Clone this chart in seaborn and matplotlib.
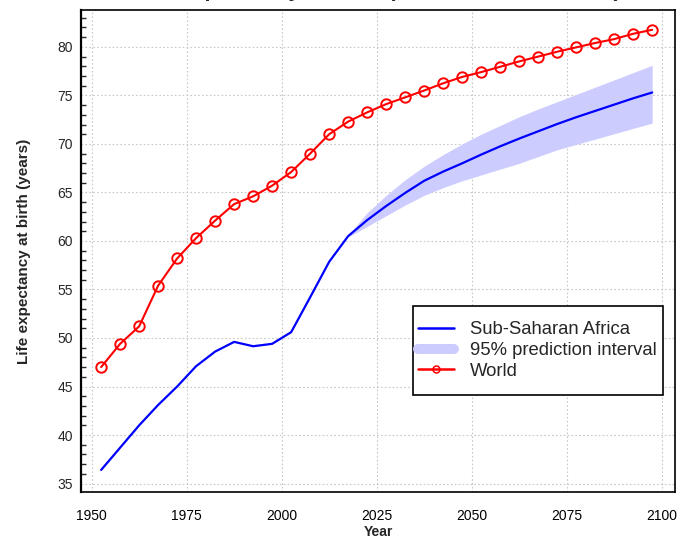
import numpy as np
import pandas as pd
import seaborn as sns
import matplotlib
matplotlib.use("Agg")
import matplotlib.pyplot as plt
from matplotlib.lines import Line2D
from matplotlib.patches import Rectangle
from matplotlib.ticker import MultipleLocator

# Period midpoints (five-year periods)
years_hist = [1952.5, 1957.5, 1962.5, 1967.5, 1972.5, 1977.5, 1982.5, 1987.5,
              1992.5, 1997.5, 2002.5, 2007.5, 2012.5, 2017.5]
years_proj = [2017.5, 2022.5, 2027.5, 2032.5, 2037.5, 2042.5, 2047.5, 2052.5,
              2057.5, 2062.5, 2067.5, 2072.5, 2077.5, 2082.5, 2087.5, 2092.5,
              2097.5]

# Sub-Saharan Africa: estimates and median projection
ssa_hist = [36.4, 38.7, 41.0, 43.1, 45.0, 47.1, 48.6, 49.6,
            49.15, 49.4, 50.6, 54.2, 57.85, 60.5]
ssa_proj = [60.5, 62.15, 63.6, 64.95, 66.2, 67.15, 68.0, 68.9,
            69.75, 70.55, 71.3, 72.05, 72.75, 73.4, 74.05, 74.7, 75.3]
ssa_lo = [60.4, 61.5, 62.6, 63.7, 64.7, 65.5, 66.2, 66.8,
          67.4, 68.0, 68.7, 69.4, 69.95, 70.5, 71.05, 71.6, 72.15]
ssa_hi = [60.6, 62.9, 64.7, 66.3, 67.7, 68.9, 70.0, 71.0,
          71.9, 72.8, 73.6, 74.35, 75.1, 75.85, 76.6, 77.35, 78.1]

# World: estimates and projection
years_world = years_hist[:-1] + years_proj
world = [47.0, 49.4, 51.2, 55.4, 58.2, 60.3, 62.1, 63.8, 64.6, 65.7,
         67.1, 69.0, 71.0, 72.3, 73.25, 74.1, 74.8, 75.5, 76.25, 76.9,
         77.4, 77.95, 78.5, 79.0, 79.5, 79.95, 80.4, 80.8, 81.35, 81.76]

title = "Life expectancy at birth (historic and forecast)"
x_label = "Year"
y_label = "Life expectancy at birth (years)"
x_ticks = [1950, 1975, 2000, 2025, 2050, 2075, 2100]
y_ticks = [35, 40, 45, 50, 55, 60, 65, 70, 75, 80]
series_names = ["Sub-Saharan Africa", "95% prediction interval", "World"]

sns.set_style("white")
plt.rcParams["font.family"] = ["Liberation Sans", "DejaVu Sans"]

ssa_df = pd.DataFrame({"year": years_hist + years_proj[1:],
                       "e0": ssa_hist + ssa_proj[1:]})
band_df = pd.DataFrame({"year": years_proj, "lo": ssa_lo, "hi": ssa_hi})
world_df = pd.DataFrame({"year": years_world, "e0": world})

fig = plt.figure(figsize=(6.96, 5.39), dpi=100)
ax = fig.add_axes([81 / 696, 47 / 539, 594 / 696, 482 / 539])

band_color = "#ccccff"
ax.fill_between(band_df["year"], band_df["lo"], band_df["hi"],
                color=band_color, lw=0, zorder=1)
sns.lineplot(data=ssa_df, x="year", y="e0", ax=ax, color="blue",
             lw=1.6, zorder=3, legend=False)
sns.lineplot(data=world_df, x="year", y="e0", ax=ax, color="red",
             lw=1.5, marker="o", markersize=7.5, markerfacecolor="none",
             markeredgecolor="red", markeredgewidth=1.4, zorder=4,
             legend=False)

ax.set_xlim(1947.2, 2103.5)
ax.set_ylim(34.13, 83.8)
ax.set_xticks(x_ticks)
ax.set_yticks(y_ticks)
ax.yaxis.set_minor_locator(MultipleLocator(1))
ax.tick_params(axis="x", direction="out", length=6, width=1.0,
               labelsize=10, pad=6, colors="black")
ax.tick_params(axis="y", which="major", direction="in", length=4,
               width=1.0, labelsize=10, pad=6)
ax.tick_params(axis="y", which="minor", direction="in", length=3.5,
               width=1.0, left=True)
ax.grid(True, which="major", color="#c8c8c8", linestyle=(0, (1.5, 2)),
        lw=0.8)

for side, sp in ax.spines.items():
    sp.set_visible(True)
    sp.set_color("black")
    sp.set_linewidth(1.2)
ax.spines["left"].set_linewidth(1.6)

ax.set_xlabel(x_label, fontsize=10, fontweight="bold", labelpad=2)
ax.set_ylabel(y_label, fontsize=11, fontweight="bold", labelpad=19)

# Title sits at the very top edge of the figure
fig.text((81 + 675) / 2 / 696, 1.0 + 4 / 539, title, ha="center",
         va="baseline", fontsize=16, fontweight="bold")

# Legend box drawn as its own frame, entries placed inside it
ax.add_patch(Rectangle((0.559, 0.201), 0.421, 0.185, transform=ax.transAxes,
                       facecolor="white", edgecolor="black", lw=1.2,
                       zorder=5))
handles = [
    Line2D([], [], color="blue", lw=1.8),
    Line2D([], [], color=band_color, lw=7.2, solid_capstyle="round"),
    Line2D([], [], color="red", lw=1.8, marker="o", markersize=5,
           markerfacecolor="none", markeredgecolor="red",
           markeredgewidth=1.1),
]
leg = ax.legend(handles, series_names, loc="center left",
                bbox_to_anchor=(0.567, 0.2936), borderaxespad=0,
                borderpad=0, fontsize=13.3, frameon=False,
                handlelength=1.95, handletextpad=0.89, labelspacing=0.2)
leg.set_zorder(6)

fig.savefig("out.png", dpi=100)
